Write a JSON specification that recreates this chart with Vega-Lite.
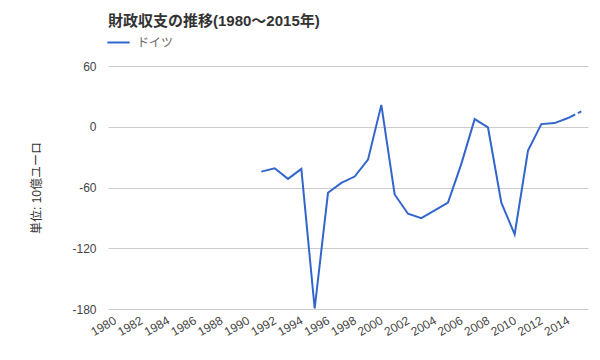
{
  "$schema": "https://vega.github.io/schema/vega-lite/v6.json",
  "width": 480,
  "height": 243,
  "autosize": {"type": "none"},
  "padding": {"left": 108, "top": 66, "right": 12, "bottom": 51},
  "background": "white",
  "title": {
    "text": "財政収支の推移(1980～2015年)",
    "anchor": "start",
    "frame": "group",
    "font": "Liberation Sans, Noto Sans CJK JP",
    "fontSize": 15,
    "fontWeight": "bold",
    "color": "#333333",
    "offset": 1
  },
  "config": {
    "view": {"stroke": null},
    "font": "Liberation Sans, Noto Sans CJK JP"
  },
  "data": {
    "values": [
      {"year": 1991, "value": -44.3, "country": "ドイツ"},
      {"year": 1992, "value": -41.0, "country": "ドイツ"},
      {"year": 1993, "value": -51.5, "country": "ドイツ"},
      {"year": 1994, "value": -41.6, "country": "ドイツ"},
      {"year": 1995, "value": -179.5, "country": "ドイツ"},
      {"year": 1996, "value": -65.2, "country": "ドイツ"},
      {"year": 1997, "value": -55.4, "country": "ドイツ"},
      {"year": 1998, "value": -49.2, "country": "ドイツ"},
      {"year": 1999, "value": -32.5, "country": "ドイツ"},
      {"year": 2000, "value": 21.6, "country": "ドイツ"},
      {"year": 2001, "value": -66.9, "country": "ドイツ"},
      {"year": 2002, "value": -85.9, "country": "ドイツ"},
      {"year": 2003, "value": -90.2, "country": "ドイツ"},
      {"year": 2004, "value": -82.6, "country": "ドイツ"},
      {"year": 2005, "value": -75.0, "country": "ドイツ"},
      {"year": 2006, "value": -36.7, "country": "ドイツ"},
      {"year": 2007, "value": 7.5, "country": "ドイツ"},
      {"year": 2008, "value": -0.7, "country": "ドイツ"},
      {"year": 2009, "value": -75.0, "country": "ドイツ"},
      {"year": 2010, "value": -106.2, "country": "ドイツ"},
      {"year": 2011, "value": -23.6, "country": "ドイツ"},
      {"year": 2012, "value": 2.6, "country": "ドイツ"},
      {"year": 2013, "value": 3.6, "country": "ドイツ"},
      {"year": 2014, "value": 8.6, "country": "ドイツ"},
      {"year": 2015, "value": 15.1, "country": "ドイツ"}
    ]
  },
  "encoding": {
    "x": {
      "field": "year",
      "type": "quantitative",
      "scale": {"domain": [1979.5, 2015.5], "nice": false, "zero": false},
      "axis": {
        "title": null,
        "values": [1980, 1982, 1984, 1986, 1988, 1990, 1992, 1994, 1996, 1998, 2000, 2002, 2004, 2006, 2008, 2010, 2012, 2014],
        "format": "d",
        "labelAngle": -30,
        "labelAlign": "right",
        "labelBaseline": "middle",
        "labelPadding": 10,
        "labelFontSize": 12,
        "labelColor": "#444444",
        "labelOverlap": false,
        "labelFlush": false,
        "ticks": false,
        "domain": false,
        "grid": false
      }
    },
    "y": {
      "field": "value",
      "type": "quantitative",
      "scale": {"domain": [-180, 60], "nice": false, "zero": false},
      "axis": {
        "title": "単位: 10億ユーロ",
        "titleFontSize": 12,
        "titleFontWeight": "normal",
        "titleColor": "#333333",
        "titlePadding": 28,
        "values": [-180, -120, -60, 0, 60],
        "labelExpr": "'' + datum.value",
        "labelFontSize": 12,
        "labelColor": "#444444",
        "labelPadding": 12,
        "ticks": false,
        "domain": false,
        "grid": true,
        "gridColor": "#cccccc",
        "gridWidth": 1
      }
    }
  },
  "layer": [
    {
      "mark": {"type": "rule", "color": "#333333", "strokeWidth": 1},
      "encoding": {"y": {"datum": 0}}
    },
    {
      "transform": [{"filter": "datum.year <= 2014"}],
      "mark": {"type": "line", "strokeWidth": 2},
      "encoding": {
        "color": {
          "field": "country",
          "type": "nominal",
          "scale": {"range": ["#3366cc"]},
          "legend": {
            "title": null,
            "orient": "none",
            "legendX": -2,
            "legendY": -36,
            "symbolType": "stroke",
            "symbolStrokeWidth": 2,
            "symbolSize": 500,
            "labelFontSize": 12,
            "labelColor": "#666666",
            "labelOffset": 6
          }
        }
      }
    },
    {
      "transform": [{"filter": "datum.year >= 2014"}],
      "mark": {"type": "line", "strokeWidth": 2, "strokeDash": [8, 3]},
      "encoding": {
        "color": {"field": "country", "type": "nominal"}
      }
    }
  ]
}
